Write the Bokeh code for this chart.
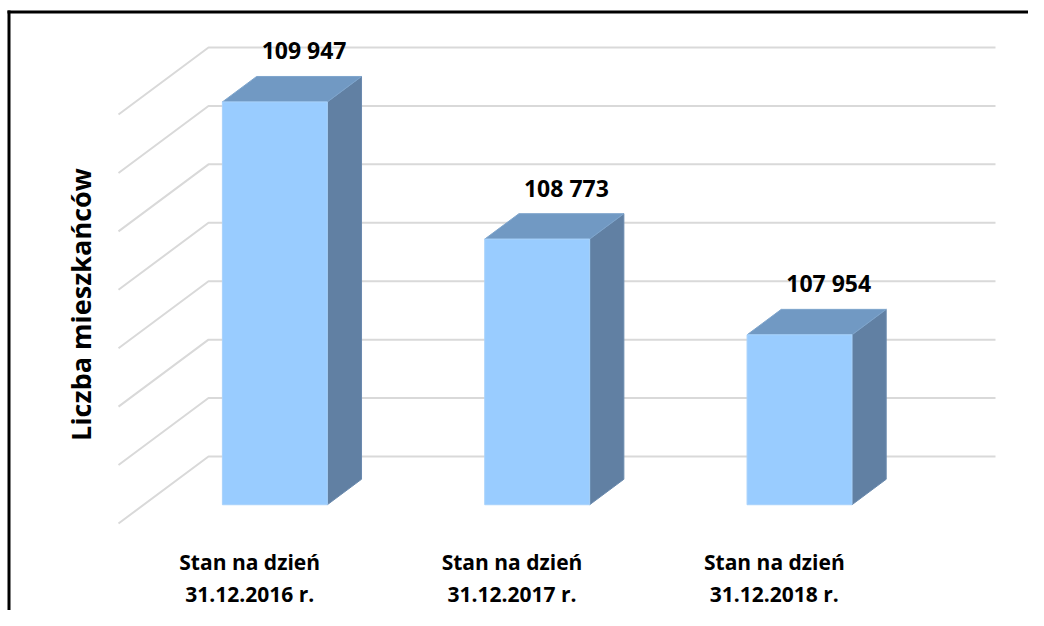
import math
from bokeh.plotting import figure
from bokeh.models import ColumnDataSource, Range1d
from bokeh.core.properties import value
from bokeh.embed import file_html
from bokeh.resources import INLINE

# ---- data ----
years = ["2016", "2017", "2018"]
cat_line1 = ["Stan na dzień", "Stan na dzień", "Stan na dzień"]
cat_line2 = ["31.12.2016 r.", "31.12.2017 r.", "31.12.2018 r."]
residents = [109947, 108773, 107954]
value_labels = ["109 947", "108 773", "107 954"]
axis_min = 106500
axis_max = 110000
axis_step = 500
y_title = "Liczba mieszkańców"

# ---- layout constants (pixels) ----
W, H = 1028, 610
K = 262.33                 # px per category
P = 409.0 / (axis_max - axis_min)   # px per value unit
WALL_LEFT = 208            # px of back-wall left edge
WALL_TOP = 47              # px of axis_max on back wall
DEPTH_X_PX, DEPTH_Y_PX = -90.0, 67.0
D_FRONT, D_BACK = 0.72, 0.34
HALF_W = 0.2

x0 = -0.5 - WALL_LEFT / K
x1 = x0 + W / K
y1 = axis_max + WALL_TOP / P
y0 = y1 - H / P
DX = DEPTH_X_PX / K
DY = -DEPTH_Y_PX / P

def proj(u, v, d):
    return u + d * DX, v + d * DY

def fy_to_val(fy):
    return y1 - fy / P

def fx_to_u(fx):
    return x0 + fx / K

p = figure(width=W, height=H, x_range=Range1d(x0, x1), y_range=Range1d(y0, y1),
           output_backend="svg", toolbar_location=None, min_border=0,
           x_axis_type=None, y_axis_type=None)
p.grid.visible = False
p.outline_line_color = None
p.background_fill_color = "white"

# ---- gridlines (back wall + side wall) ----
ticks = list(range(axis_min, axis_max + 1, axis_step))
gx, gy = [], []
for t in ticks:
    a = proj(-0.5, t, 0)
    b = proj(len(years) - 0.5, t, 0)
    c = proj(-0.5, t, 1)
    gx.append([c[0], a[0], b[0]])
    gy.append([c[1], a[1], b[1]])
p.multi_line(xs=gx, ys=gy, line_color="#d9d9d9", line_width=2)

# ---- bars ----
fx_, fy_, sx_, sy_, tx_, ty_ = [], [], [], [], [], []
for i, v in enumerate(residents):
    l, r = i - HALF_W, i + HALF_W
    pts = [proj(l, axis_min, D_FRONT), proj(r, axis_min, D_FRONT), proj(r, v, D_FRONT), proj(l, v, D_FRONT)]
    fx_.append([q[0] for q in pts]); fy_.append([q[1] for q in pts])
    pts = [proj(r, axis_min, D_FRONT), proj(r, axis_min, D_BACK), proj(r, v, D_BACK), proj(r, v, D_FRONT)]
    sx_.append([q[0] for q in pts]); sy_.append([q[1] for q in pts])
    pts = [proj(l, v, D_FRONT), proj(r, v, D_FRONT), proj(r, v, D_BACK), proj(l, v, D_BACK)]
    tx_.append([q[0] for q in pts]); ty_.append([q[1] for q in pts])

p.patches(xs=sx_, ys=sy_, fill_color="#6180a3", line_color="#6a8aae", line_width=1)
p.patches(xs=tx_, ys=ty_, fill_color="#7199c3", line_color="#7fa5cc", line_width=1)
p.patches(xs=fx_, ys=fy_, fill_color="#99ccff", line_color="#a8d2fb", line_width=1)

# ---- value labels ----
lab_x = [proj(i, v, D_BACK)[0] - 5 / K for i, v in enumerate(residents)]
lab_y = [proj(i, v, D_BACK)[1] + 26 / P for i, v in enumerate(residents)]
p.text(x=lab_x, y=lab_y, text=value_labels, text_font=value("Open Sans"),
       text_font_style="bold", text_font_size="23px", text_align="center",
       text_baseline="middle", text_color="#000000")

# ---- category labels ----
cx = [proj(i, axis_min, 1)[0] for i in range(len(years))]
p.text(x=cx, y=[fy_to_val(561)] * len(years), text=cat_line1, text_font=value("Open Sans"),
       text_font_style="bold", text_font_size="21px", text_align="center",
       text_baseline="middle", text_color="#000000")
p.text(x=cx, y=[fy_to_val(593.5)] * len(years), text=cat_line2, text_font=value("Open Sans"),
       text_font_style="bold", text_font_size="21px", text_align="center",
       text_baseline="middle", text_color="#000000")

# ---- axis title ----
p.text(x=[fx_to_u(80)], y=[fy_to_val(304)], text=[y_title], angle=math.pi / 2,
       text_font=value("Open Sans"), text_font_style="bold", text_font_size="27px",
       text_align="center", text_baseline="middle", text_color="#000000")

# ---- frame lines ----
p.line(x=[fx_to_u(7), fx_to_u(W)], y=[fy_to_val(11.5), fy_to_val(11.5)], line_color="black", line_width=3)
p.line(x=[fx_to_u(8.5), fx_to_u(8.5)], y=[fy_to_val(10), fy_to_val(H)], line_color="black", line_width=3)

open("out.html", "w").write(file_html(p, INLINE))
